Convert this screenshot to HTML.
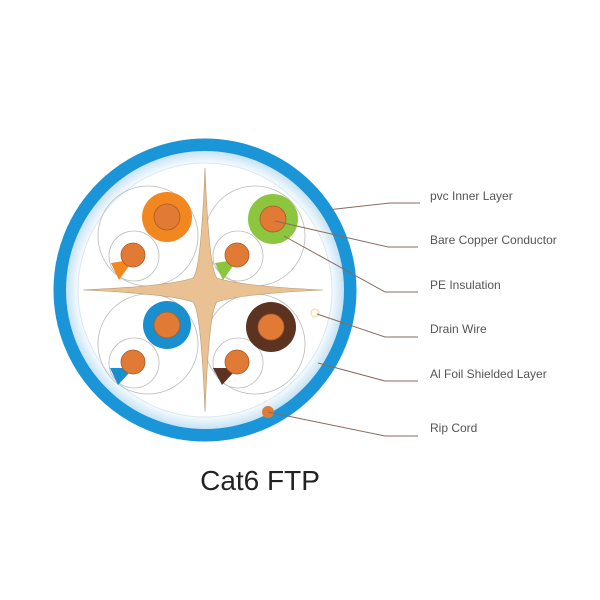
<!DOCTYPE html>
<html><head><style>
html,body{margin:0;padding:0;background:#fff;}
svg{display:block;}
text{font-family:"Liberation Sans",sans-serif;}
</style></head><body>
<svg width="600" height="600" viewBox="0 0 600 600">
<defs>
<radialGradient id="g" cx="205" cy="290" r="142" gradientUnits="userSpaceOnUse">
<stop offset="0.88" stop-color="#ffffff"/>
<stop offset="1" stop-color="#b9dcf2"/>
</radialGradient>
</defs>
<circle cx="205" cy="290" r="145" fill="none" stroke="#1a95d8" stroke-width="13"/>
<circle cx="205" cy="290" r="139" fill="url(#g)"/>
<circle cx="205" cy="290" r="127" fill="#fff" stroke="#d8e8f2" stroke-width="1"/>
<g fill="none" stroke="#bbb" stroke-width="0.8">
<circle cx="148" cy="236" r="50"/><circle cx="255" cy="236" r="50"/>
<circle cx="148" cy="344" r="50"/><circle cx="255" cy="344" r="50"/>
<circle cx="134" cy="256" r="25"/><circle cx="238" cy="256" r="25"/>
<circle cx="134" cy="363" r="25"/><circle cx="238" cy="363" r="25"/>
</g>
<path d="M205,168 Q209,270 217,278 Q240,286 323,290 Q240,294 217,302 Q209,310 205,412 Q201,310 193,302 Q170,294 83,290 Q170,286 193,278 Q201,270 205,168Z" fill="#e9c193" stroke="#b89870" stroke-width="0.6"/>
<circle cx="167" cy="217" r="25" fill="#f2861f"/><circle cx="167" cy="217" r="13" fill="#e07a35" stroke="#a95a2a" stroke-width="0.8"/>
<circle cx="273" cy="219" r="25" fill="#8cc63f"/><circle cx="273" cy="219" r="13" fill="#e07a35" stroke="#a95a2a" stroke-width="0.8"/>
<circle cx="167" cy="325" r="24" fill="#1a8fd0"/><circle cx="167" cy="325" r="13" fill="#e07a35" stroke="#a95a2a" stroke-width="0.8"/>
<circle cx="271" cy="327" r="25" fill="#5b3320"/><circle cx="271" cy="327" r="13" fill="#e07a35" stroke="#a95a2a" stroke-width="0.8"/>
<polygon points="124,261 111,263 119,280 129,266" fill="#f2861f"/>
<circle cx="133" cy="255" r="12" fill="#e07a35" stroke="#a95a2a" stroke-width="0.8"/>
<polygon points="228,261 215,263 223,280 233,266" fill="#8cc63f"/>
<circle cx="237" cy="255" r="12" fill="#e07a35" stroke="#a95a2a" stroke-width="0.8"/>
<polygon points="124,368 110,368 118,385 129,373" fill="#1a8fd0"/>
<circle cx="133" cy="362" r="12" fill="#e07a35" stroke="#a95a2a" stroke-width="0.8"/>
<polygon points="228,368 213,368 222,385 233,373" fill="#5b3320"/>
<circle cx="237" cy="362" r="12" fill="#e07a35" stroke="#a95a2a" stroke-width="0.8"/>
<circle cx="315" cy="313" r="4" fill="#fffbe8" stroke="#e8d8b0" stroke-width="1"/>
<circle cx="268" cy="412" r="6" fill="#e07a35"/>
<g fill="none" stroke="#8a6a5e" stroke-width="1">
<polyline points="327,210 390,203 420,203"/>
<polyline points="275,221 388,247 418,247"/>
<polyline points="284,236 385,292 418,292"/>
<polyline points="317,314 385,337 418,337"/>
<polyline points="318,363 385,381 418,381"/>
<polyline points="268,412 385,436 418,436"/>
</g>
<g font-size="12" fill="#555">
<text x="430" y="200">pvc Inner Layer</text>
<text x="430" y="244">Bare Copper Conductor</text>
<text x="430" y="289">PE Insulation</text>
<text x="430" y="333">Drain Wire</text>
<text x="430" y="378">Al Foil Shielded Layer</text>
<text x="430" y="432">Rip Cord</text>
</g>
<text x="260" y="490" font-size="28" fill="#222" text-anchor="middle">Cat6 FTP</text>
</svg>
</body></html>
